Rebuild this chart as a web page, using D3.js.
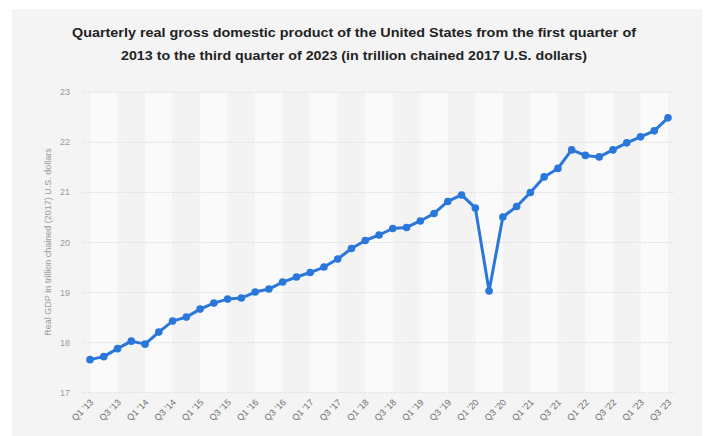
<!DOCTYPE html>
<html>
<head>
  <meta charset="UTF-8" />
  <title>Quarterly real GDP of the United States</title>
  <script src="https://d3js.org/d3.v7.min.js"></script>
  <style>
    body { margin: 0; background: #fff; }
    text { font-family: "Liberation Sans", Arial, sans-serif; }
    .grid line { stroke: #dedede; stroke-width: 1; stroke-dasharray: 1.5 1; }
    .ytick { font-size: 9px; fill: #9a9a9a; }
    .xtick { font-size: 9px; fill: #6f6f6f; }
    .line { fill: none; stroke: #2a77dc; stroke-width: 3px; stroke-linejoin: round; }
    .dot { fill: #2a77dc; }
  </style>
</head>
<body>
  <svg id="chart" width="706" height="436"></svg>
  <script>
    // data
    const years = ["13", "14", "15", "16", "17", "18", "19", "20", "21", "22", "23"];
    const quarters = [];
    years.forEach(y => ["Q1", "Q2", "Q3", "Q4"].forEach(q => quarters.push(`${q} '${y}`)));
    quarters.splice(43); // up to Q3 '23

    const gdp = [
      17.66, 17.72, 17.88, 18.03,
      17.97, 18.21, 18.43, 18.51,
      18.67, 18.79, 18.87, 18.89,
      19.01, 19.07, 19.21, 19.31,
      19.40, 19.51, 19.67, 19.88,
      20.04, 20.15, 20.28, 20.30,
      20.43, 20.58, 20.82, 20.95,
      20.69, 19.03, 20.51, 20.72,
      21.00, 21.31, 21.48, 21.85,
      21.74, 21.71, 21.85, 21.99,
      22.11, 22.23, 22.49
    ];
    const yTicks = [17, 18, 19, 20, 21, 22, 23];

    const titleLines = [
      "Quarterly real gross domestic product of the United States from the first quarter of",
      "2013 to the third quarter of 2023 (in trillion chained 2017 U.S. dollars)"
    ];
    const yTitle = "Real GDP in trillion chained (2017) U.S. dollars";

    const svg = d3.select("#chart");

    // outer grey panel
    svg.append("rect")
      .attr("x", 12).attr("y", 9)
      .attr("width", 690).attr("height", 427)
      .attr("fill", "#f4f4f4");

    // title
    svg.append("text")
      .attr("text-anchor", "middle")
      .attr("font-weight", "bold")
      .attr("font-size", 13)
      .attr("fill", "#222")
      .selectAll("tspan")
      .data(titleLines)
      .join("tspan")
      .attr("x", 354)
      .attr("y", (d, i) => 37 + i * 23)
      .attr("textLength", (d, i) => i === 0 ? 564 : 466)
      .attr("lengthAdjust", "spacingAndGlyphs")
      .text(d => d);

    const x = d3.scalePoint().domain(quarters).range([90, 668]);
    const y = d3.scaleLinear().domain([17, 23]).range([392.7, 92.3]);
    const step = x.step();

    // alternating bands between every other quarter
    const bandStarts = quarters.filter((d, i) => i % 2 === 0 && i < quarters.length - 1);
    svg.append("g")
      .selectAll("rect")
      .data(bandStarts)
      .join("rect")
      .attr("x", d => x(d))
      .attr("y", y(23))
      .attr("width", step * 2)
      .attr("height", y(17) - y(23))
      .attr("fill", (d, i) => i % 2 === 0 ? "#fafafa" : "#f3f3f3");

    // gridlines
    svg.append("g")
      .attr("class", "grid")
      .selectAll("line")
      .data(yTicks)
      .join("line")
      .attr("x1", 83).attr("x2", 675)
      .attr("y1", d => y(d)).attr("y2", d => y(d));

    // y tick labels
    svg.append("g")
      .selectAll("text")
      .data(yTicks)
      .join("text")
      .attr("class", "ytick")
      .attr("x", 70)
      .attr("y", d => y(d) + 3)
      .attr("text-anchor", "end")
      .text(d => d);

    // y axis title
    svg.append("text")
      .attr("class", "ytick")
      .attr("transform", "translate(51,242) rotate(-90)")
      .attr("text-anchor", "middle")
      .text(yTitle);

    // x tick labels (every other quarter)
    svg.append("g")
      .selectAll("text")
      .data(quarters.filter((d, i) => i % 2 === 0))
      .join("text")
      .attr("class", "xtick")
      .attr("text-anchor", "end")
      .attr("transform", d => `translate(${x(d) + 4},${403}) rotate(-45)`)
      .text(d => d);

    // line + markers
    const series = quarters.map((q, i) => ({ q, v: gdp[i] }));
    svg.append("path")
      .datum(series)
      .attr("class", "line")
      .attr("d", d3.line().x(d => x(d.q)).y(d => y(d.v)));

    svg.append("g")
      .selectAll("circle")
      .data(series)
      .join("circle")
      .attr("class", "dot")
      .attr("cx", d => x(d.q))
      .attr("cy", d => y(d.v))
      .attr("r", 3.8);
  </script>
</body>
</html>
